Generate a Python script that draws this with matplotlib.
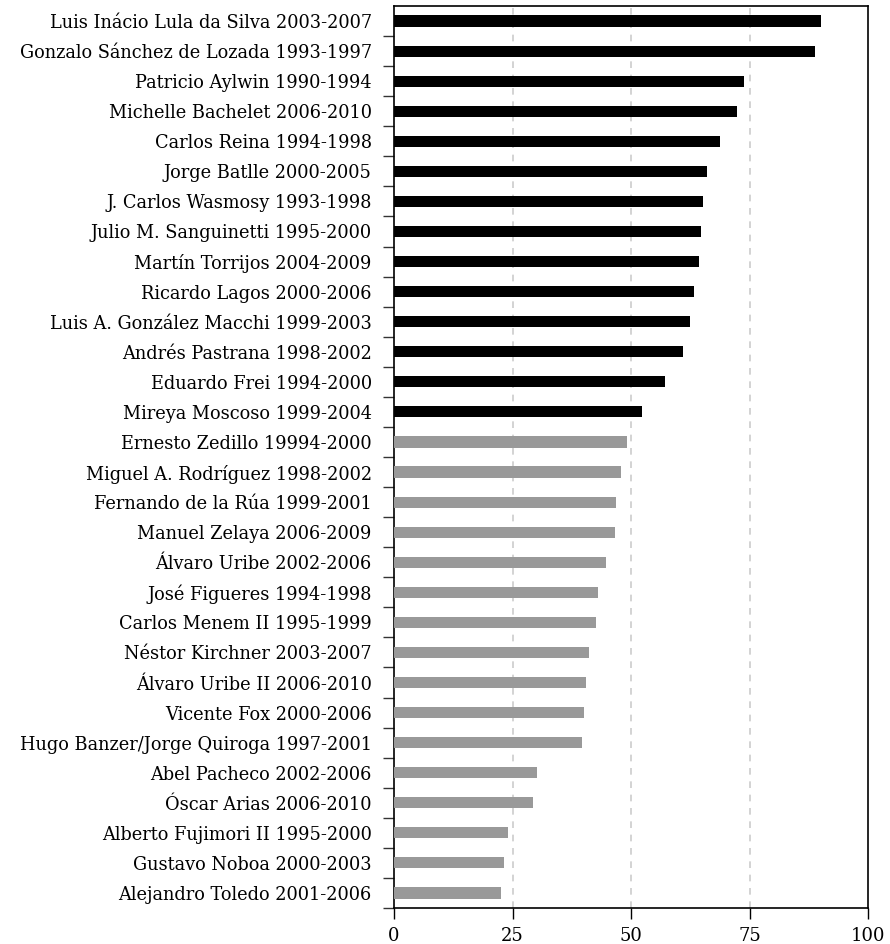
import matplotlib
matplotlib.use("Agg")
import matplotlib.pyplot as plt
import numpy as np

# presidents, top to bottom
names = [
    "Luis Inácio Lula da Silva 2003-2007",
    "Gonzalo Sánchez de Lozada 1993-1997",
    "Patricio Aylwin 1990-1994",
    "Michelle Bachelet 2006-2010",
    "Carlos Reina 1994-1998",
    "Jorge Batlle 2000-2005",
    "J. Carlos Wasmosy 1993-1998",
    "Julio M. Sanguinetti 1995-2000",
    "Martín Torrijos 2004-2009",
    "Ricardo Lagos 2000-2006",
    "Luis A. González Macchi 1999-2003",
    "Andrés Pastrana 1998-2002",
    "Eduardo Frei 1994-2000",
    "Mireya Moscoso 1999-2004",
    "Ernesto Zedillo 19994-2000",
    "Miguel A. Rodríguez 1998-2002",
    "Fernando de la Rúa 1999-2001",
    "Manuel Zelaya 2006-2009",
    "Álvaro Uribe 2002-2006",
    "José Figueres 1994-1998",
    "Carlos Menem II 1995-1999",
    "Néstor Kirchner 2003-2007",
    "Álvaro Uribe II 2006-2010",
    "Vicente Fox 2000-2006",
    "Hugo Banzer/Jorge Quiroga 1997-2001",
    "Abel Pacheco 2002-2006",
    "Óscar Arias 2006-2010",
    "Alberto Fujimori II 1995-2000",
    "Gustavo Noboa 2000-2003",
    "Alejandro Toledo 2001-2006",
]
values = [90.1, 88.8, 73.9, 72.4, 68.8, 66.1, 65.2, 64.8, 64.4, 63.3,
          62.5, 61.0, 57.2, 52.4, 49.2, 47.9, 46.9, 46.7, 44.8, 43.1,
          42.7, 41.2, 40.5, 40.1, 39.7, 30.2, 29.4, 24.1, 23.3, 22.6]
xticks = [0, 25, 50, 75, 100]
threshold = 50

plt.rcParams['font.family'] = ['DejaVu Serif']

fig = plt.figure(figsize=(8.9, 9.44), dpi=100)
ax = fig.add_axes([394/890, 1-908/944, 474/890, 902/944])

n = len(names)
y = np.arange(n)[::-1]
colors = ["#000000" if v > threshold else "#999999" for v in values]
ax.barh(y, values, height=0.37, color=colors, zorder=3)

ax.set_xlim(0, 100)
ax.set_ylim(-0.5, n - 0.5)
ax.set_xticks(xticks)
ax.set_xticklabels([str(t) for t in xticks], fontsize=13)
for t in xticks[1:-1]:
    ax.axvline(t, color="#cccccc", linestyle=(0, (4, 4)), linewidth=1.2, zorder=1)

# labels at bar centres, tick marks at slot boundaries
ax.set_yticks(y)
ax.set_yticklabels(names, fontsize=12.8)
ax.tick_params(axis='y', length=0, pad=16)
ax.set_yticks(np.arange(n) - 0.5, minor=True)
ax.tick_params(axis='y', which='minor', length=8, width=1, color="#333333")
ax.tick_params(axis='x', length=8, width=1, pad=6)

for s in ax.spines.values():
    s.set_linewidth(1.2)

fig.savefig("out.png", dpi=100)
